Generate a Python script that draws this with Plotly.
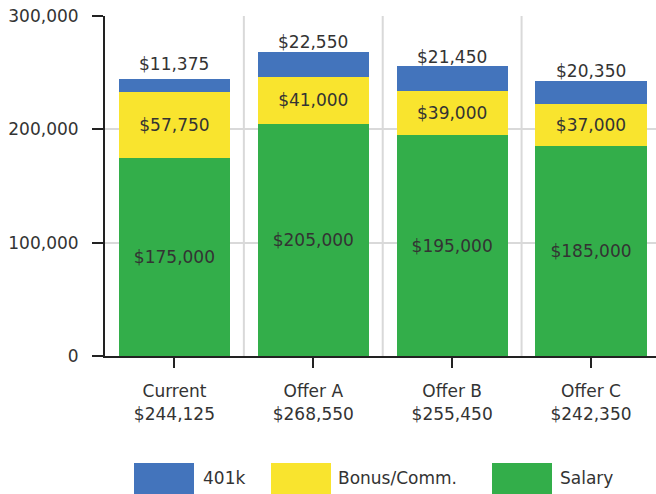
import plotly.graph_objects as go

categories = ["Current", "Offer A", "Offer B", "Offer C"]
salary = [175000, 205000, 195000, 185000]
bonus = [57750, 41000, 39000, 37000]
k401 = [11375, 22550, 21450, 20350]
y_ticks = [0, 100000, 200000, 300000]

totals = [s + b + k for s, b, k in zip(salary, bonus, k401)]
tick_text = [f"{c}<br>${t:,}" for c, t in zip(categories, totals)]
k401_mid = [s + b + k / 2 for s, b, k in zip(salary, bonus, k401)]

FONT = "DejaVu Sans"
TXT = "#333333"
BLUE = "#4374BC"
YELLOW = "#F9E42E"
GREEN = "#33AE4A"

W, H = 656, 494
ML, MR, MT, MB = 105, 0, 16, 138

fig = go.Figure()
fig.add_bar(x=categories, y=salary, name="Salary", marker_color=GREEN,
            texttemplate="$%{y:,}", textposition="inside", insidetextanchor="middle",
            textangle=0, insidetextfont=dict(color=TXT, size=17, family=FONT))
fig.add_bar(x=categories, y=bonus, name="Bonus/Comm.", marker_color=YELLOW,
            texttemplate="$%{y:,}", textposition="inside", insidetextanchor="middle",
            textangle=0, insidetextfont=dict(color=TXT, size=17, family=FONT))
fig.add_bar(x=categories, y=k401, name="401k", marker_color=BLUE,
            textposition="none")

fig.update_traces(marker_line_width=0, width=0.8, showlegend=False)

annotations = []
for c, ym, k in zip(categories, k401_mid, k401):
    annotations.append(dict(x=c, y=ym, xref="x", yref="y", text=f"${k:,}",
                            showarrow=False, yanchor="middle", yshift=22,
                            font=dict(family=FONT, size=17, color=TXT)))

# vertical gridlines between categories
shapes = []
for i in range(len(categories)):
    shapes.append(dict(type="line", xref="x", yref="paper", x0=i + 0.5, x1=i + 0.5,
                       y0=0, y1=1, line=dict(color="#d9d9d9", width=2), layer="below"))

# custom legend
pw = W - ML - MR
ph = H - MT - MB
def px2x(p):
    return (p - ML) / pw
def py2y(p):
    return (H - MB - p) / ph

legend_items = [("401k", BLUE, 134, 203), ("Bonus/Comm.", YELLOW, 271, 338), ("Salary", GREEN, 492, 560)]
for name, col, x0, tx in legend_items:
    shapes.append(dict(type="rect", xref="paper", yref="paper",
                       x0=px2x(x0), x1=px2x(x0 + 60), y0=py2y(463), y1=py2y(495),
                       fillcolor=col, line=dict(width=0)))
    annotations.append(dict(xref="paper", yref="paper", x=px2x(tx), y=py2y(478),
                            text=name, showarrow=False, xanchor="left", yanchor="middle",
                            xshift=-2, font=dict(family=FONT, size=17, color=TXT)))

fig.update_layout(
    barmode="stack",
    width=W, height=H,
    margin=dict(l=ML, r=MR, t=MT, b=MB, pad=0),
    plot_bgcolor="white", paper_bgcolor="white",
    font=dict(family=FONT, size=17, color=TXT),
    shapes=shapes,
    annotations=annotations,
    xaxis=dict(tickmode="array", tickvals=categories, ticktext=tick_text,
               range=[-0.5, 3.468],
               showline=True, linecolor="#222", linewidth=2,
               ticks="outside", ticklen=10, tickwidth=2, tickcolor="#222",
               showgrid=False, tickfont=dict(family=FONT, size=17, color=TXT),
               ticklabelstandoff=9),
    yaxis=dict(range=[0, 300000], tickvals=y_ticks, tickformat=",d",
               showline=True, linecolor="#222", linewidth=2,
               ticks="outside", ticklen=11, tickwidth=2, tickcolor="#222",
               gridcolor="#d9d9d9", gridwidth=2, zeroline=False,
               tickfont=dict(family=FONT, size=17, color=TXT),
               ticklabelstandoff=10),
)

fig.write_html("out.html")
